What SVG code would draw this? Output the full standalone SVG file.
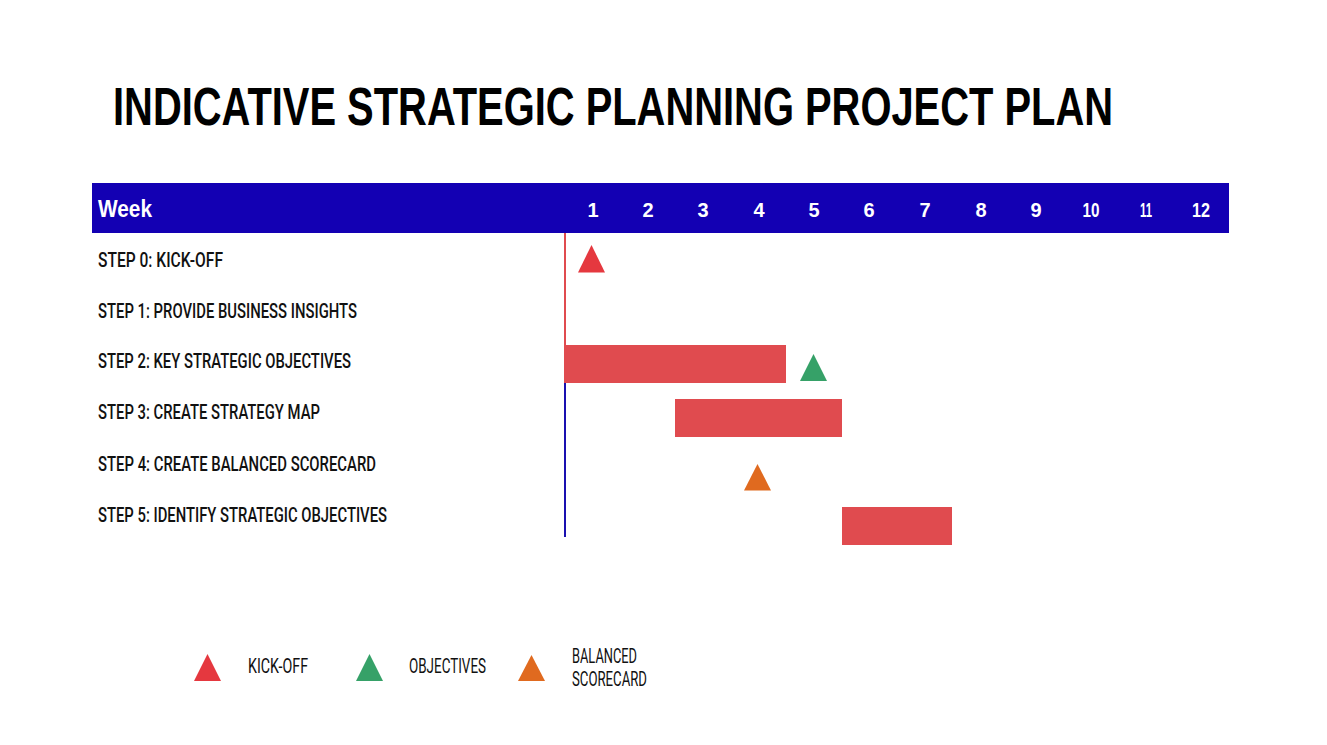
<svg xmlns="http://www.w3.org/2000/svg" width="1327" height="745" viewBox="0 0 1327 745">
<style>
.title{font-family:"Liberation Sans",Arial,sans-serif;font-weight:bold;font-size:40px;fill:#000}
.hdr{font-family:"Liberation Sans",Arial,sans-serif;font-weight:bold;fill:#fff}
.wk{font-size:20px;text-anchor:middle}
.step{font-family:Roboto,"Liberation Sans",sans-serif;font-weight:500;font-size:21px;fill:#111}
.leg{font-family:Roboto,"Liberation Sans",sans-serif;font-weight:400;font-size:21px;fill:#111}
.bar{fill:#E04B4F}
.tri-red{fill:#E5383F}
.tri-green{fill:#36A168}
.tri-orange{fill:#E06A1F}
</style>
<rect width="1327" height="745" fill="#fff"/>
<g id="title">
<text class="title" transform="translate(113,125) scale(1,1.33)" x="0" y="0" textLength="1000" lengthAdjust="spacingAndGlyphs">INDICATIVE STRATEGIC PLANNING PROJECT PLAN</text>
</g>
<g id="header">
<rect x="92" y="183" width="1137" height="50" fill="#1300B3"/>
<text class="hdr" x="98" y="217" font-size="23" textLength="54" lengthAdjust="spacingAndGlyphs">Week</text>
<text class="hdr wk" x="593" y="217">1</text>
<text class="hdr wk" x="648" y="217">2</text>
<text class="hdr wk" x="703" y="217">3</text>
<text class="hdr wk" x="759" y="217">4</text>
<text class="hdr wk" x="814" y="217">5</text>
<text class="hdr wk" x="869" y="217">6</text>
<text class="hdr wk" x="925" y="217">7</text>
<text class="hdr wk" x="981" y="217">8</text>
<text class="hdr wk" x="1036" y="217">9</text>
<text class="hdr wk" x="1091" y="217" textLength="17" lengthAdjust="spacingAndGlyphs">10</text>
<text class="hdr wk" x="1146" y="217" textLength="12" lengthAdjust="spacingAndGlyphs">11</text>
<text class="hdr wk" x="1201" y="217" textLength="18" lengthAdjust="spacingAndGlyphs">12</text>
</g>
<g id="labels">
<text class="step" x="98" y="267" textLength="125" lengthAdjust="spacingAndGlyphs">STEP 0: KICK-OFF</text>
<text class="step" x="98" y="318" textLength="259" lengthAdjust="spacingAndGlyphs">STEP 1: PROVIDE BUSINESS INSIGHTS</text>
<text class="step" x="98" y="368" textLength="253" lengthAdjust="spacingAndGlyphs">STEP 2: KEY STRATEGIC OBJECTIVES</text>
<text class="step" x="98" y="419" textLength="222" lengthAdjust="spacingAndGlyphs">STEP 3: CREATE STRATEGY MAP</text>
<text class="step" x="98" y="471" textLength="278" lengthAdjust="spacingAndGlyphs">STEP 4: CREATE BALANCED SCORECARD</text>
<text class="step" x="98" y="522" textLength="289" lengthAdjust="spacingAndGlyphs">STEP 5: IDENTIFY STRATEGIC OBJECTIVES</text>
</g>
<g id="connectors">
<line x1="565" y1="233" x2="565" y2="383" stroke="#E04B4F" stroke-width="2"/>
<line x1="565" y1="383" x2="565" y2="537" stroke="#1a10b0" stroke-width="2"/>
</g>
<g id="step0-kickoff"><polygon class="tri-red" points="591.5,245 578,272.5 605,272.5"/></g>
<g id="step2-bar"><rect class="bar" x="565" y="345" width="221" height="38"/></g>
<g id="step2-objectives"><polygon class="tri-green" points="813.5,354 800,381 827,381"/></g>
<g id="step3-bar"><rect class="bar" x="675" y="399" width="167" height="38"/></g>
<g id="step4-scorecard"><polygon class="tri-orange" points="757.5,464 744,490.5 771,490.5"/></g>
<g id="step5-bar"><rect class="bar" x="842" y="507" width="110" height="38"/></g>
<g id="legend">
<polygon class="tri-red" points="207.5,654 194,681 221,681"/>
<text class="leg" x="248" y="673" textLength="60" lengthAdjust="spacingAndGlyphs">KICK-OFF</text>
<polygon class="tri-green" points="369.5,654 356,681 383,681"/>
<text class="leg" x="409" y="673" textLength="77" lengthAdjust="spacingAndGlyphs">OBJECTIVES</text>
<polygon class="tri-orange" points="531.5,655 518,681 545,681"/>
<text class="leg" x="572" y="663" font-size="20" textLength="65" lengthAdjust="spacingAndGlyphs">BALANCED</text>
<text class="leg" x="572" y="686" font-size="20" textLength="75" lengthAdjust="spacingAndGlyphs">SCORECARD</text>
</g>
</svg>
